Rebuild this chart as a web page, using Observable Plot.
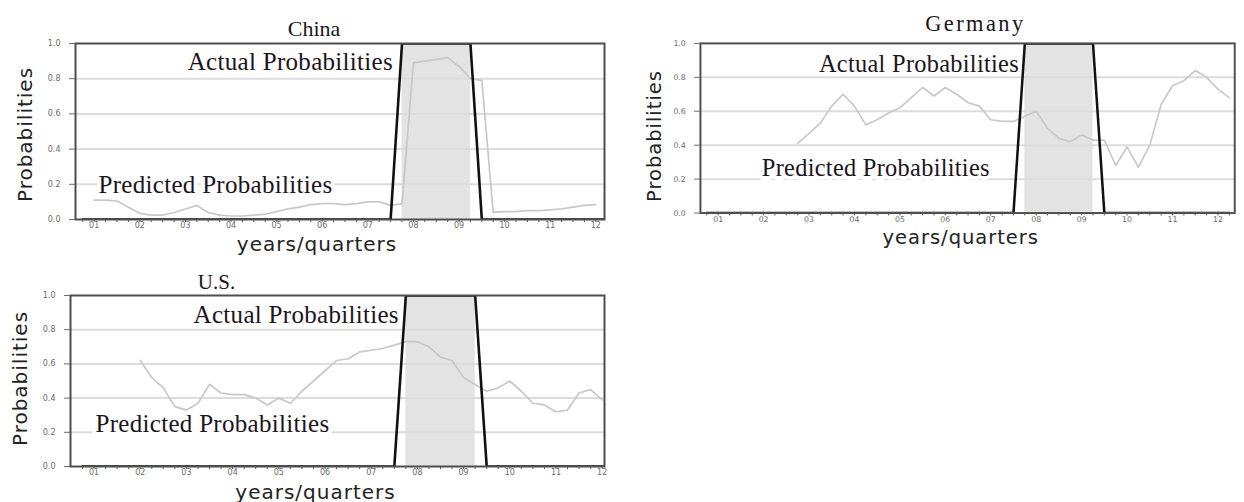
<!DOCTYPE html>
<html>
<head>
<meta charset="utf-8">
<script src="https://cdn.jsdelivr.net/npm/d3@7"></script>
<script src="https://cdn.jsdelivr.net/npm/@observablehq/plot@0.6"></script>
<style>
  html, body { margin: 0; padding: 0; background: #fff; overflow: hidden; }
  #wrap { position: relative; width: 1244px; height: 502px; overflow: hidden; background: #fff; }
  .panel { position: absolute; }
  .panel svg { overflow: visible; }
  g[aria-description="sans-label"] text { letter-spacing: 1px; }
  g[aria-description="serif-note"] text { letter-spacing: 0.3px; }
  g[aria-description="title-wide"] text { letter-spacing: 2.5px; }
</style>
</head>
<body>
<div id="wrap"></div>
<script>
// ---------- data ----------
const years = [2001, 2002, 2003, 2004, 2005, 2006, 2007, 2008, 2009, 2010, 2011, 2012];
const yearLabels = ["01", "02", "03", "04", "05", "06", "07", "08", "09", "10", "11", "12"];
const quarterNames = ["Q1", "Q2", "Q3", "Q4"];
const yTicks = [0, 0.2, 0.4, 0.6, 0.8, 1.0];

// Actual probabilities, 2001Q1 .. 2012Q3
const actualChina = [
  0,0,0,0, 0,0,0,0, 0,0,0,0, 0,0,0,0, 0,0,0,0, 0,0,0,0, 0,0,0,0,
  1,1,1,1, 1,1,1,0, 0,0,0,0, 0,0,0,0, 0,0,0
];
const actualGermany = [
  0,0,0,0, 0,0,0,0, 0,0,0,0, 0,0,0,0, 0,0,0,0, 0,0,0,0, 0,0,0,0,
  1,1,1,1, 1,1,1,0, 0,0,0,0, 0,0,0,0, 0,0,0
];
const actualUS = [
  0,0,0,0, 0,0,0,0, 0,0,0,0, 0,0,0,0, 0,0,0,0, 0,0,0,0, 0,0,0,0,
  1,1,1,1, 1,1,1,0, 0,0,0,0, 0,0,0,0, 0,0,0
];

// Predicted probabilities
const chinaPredStart = "2001Q2";
const chinaPred = [
  0.11, 0.11, 0.105,
  0.07, 0.035, 0.025, 0.025,
  0.04, 0.06, 0.08, 0.04,
  0.025, 0.02, 0.02, 0.025,
  0.03, 0.045, 0.06, 0.07,
  0.085, 0.09, 0.09, 0.085,
  0.09, 0.10, 0.10, 0.08,
  0.09, 0.89, 0.90, 0.91,
  0.92, 0.87, 0.80, 0.79,
  0.04, 0.045, 0.045, 0.05,
  0.05, 0.055, 0.06, 0.07,
  0.08, 0.085
];
const germanyPredStart = "2003Q1";
const germanyPred = [
  0.41, 0.47, 0.53, 0.63,
  0.70, 0.63, 0.52, 0.55,
  0.59, 0.62, 0.68, 0.74,
  0.69, 0.74, 0.70, 0.65,
  0.63, 0.55, 0.54, 0.54,
  0.57, 0.60, 0.50, 0.44,
  0.42, 0.46, 0.43, 0.43,
  0.28, 0.39, 0.27, 0.40,
  0.64, 0.75, 0.78, 0.84,
  0.80, 0.73, 0.68
];
const usPredStart = "2002Q2";
const usPred = [
  0.62, 0.52, 0.46,
  0.35, 0.33, 0.37, 0.48,
  0.43, 0.42, 0.42, 0.40,
  0.36, 0.40, 0.37, 0.44,
  0.50, 0.56, 0.62, 0.63,
  0.67, 0.68, 0.69, 0.71,
  0.73, 0.73, 0.70, 0.64,
  0.62, 0.52, 0.48, 0.44,
  0.46, 0.50, 0.44, 0.37,
  0.36, 0.32, 0.33, 0.43,
  0.45, 0.39
];

const titles = ["China", "Germany", "U.S."];
const yLabel = "Probabilities";
const xLabel = "years/quarters";
const actualNote = "Actual Probabilities";
const predNote = "Predicted Probabilities";

// ---------- helpers ----------
const quarters = years.flatMap(y => quarterNames.map(q => `${y}${q}`));
const tq = q => +q.slice(0, 4) + (+q.slice(5) - 1) / 4;

function panel(o) {
  const actualData = o.actual.map((v, i) => ({t: tq(quarters[i]), v}));
  const s = quarters.indexOf(o.predStart);
  const predData = o.pred.map((v, i) => ({t: tq(quarters[s + i]), v}));
  const ones = actualData.filter(d => d.v === 1);
  const shade = [{x1: ones[0].t, x2: ones[ones.length - 1].t}];
  const qTicks = quarters.map(tq).filter(t => t >= o.domain[0] && t <= o.domain[1]);
  const yearTicks = years.map(y => y + 0.25);

  return Plot.plot({
    width: o.width, height: o.height,
    marginLeft: o.m[0], marginRight: o.m[1], marginTop: o.m[2], marginBottom: o.m[3],
    x: {domain: o.domain, axis: null},
    y: {domain: [0, 1], axis: null},
    marks: [
      Plot.rect(shade, {x1: "x1", x2: "x2", y1: 0, y2: 1, fill: "#e3e3e3"}),
      Plot.gridY([0.2, 0.4, 0.6, 0.8], {stroke: "#dcdcdc", strokeOpacity: 1, strokeWidth: 2}),
      Plot.line(predData, {x: "t", y: "v", stroke: "#c8c8c8", strokeWidth: 1.7, clip: true}),
      Plot.text([{v: o.predY, label: predNote}], {
        y: "v", text: "label", frameAnchor: "left", dx: o.predDx,
        textAnchor: "start", lineAnchor: "bottom",
        fontFamily: "Liberation Serif", fontSize: 25, fill: "#1c141c",
        stroke: "white", strokeWidth: 8, ariaDescription: "serif-note"
      }),
      Plot.line(actualData, {x: "t", y: "v", stroke: "#111", strokeWidth: 2.6, clip: true}),
      Plot.frame({stroke: "#4d4d4d", strokeWidth: 2}),
      Plot.text([{t: ones[0].t, v: o.actY, label: actualNote}], {
        x: "t", y: "v", text: "label", dx: o.actDx,
        textAnchor: "end", lineAnchor: "bottom",
        fontFamily: "Liberation Serif", fontSize: 25, fill: "#1c141c",
        stroke: "white", strokeWidth: 5, ariaDescription: "serif-note"
      }),
      Plot.axisY(yTicks, {
        anchor: "left", tickSize: 6, tickPadding: 9, label: null,
        tickFormat: d => d.toFixed(1), fontSize: 8, fontFamily: "DejaVu Sans",
        color: "#6a6a6a"
      }),
      Plot.axisX(qTicks, {
        anchor: "bottom", tickSize: 3, label: null, tickFormat: () => "", color: "#555"
      }),
      Plot.axisX(yearTicks, {
        anchor: "bottom", tickSize: 0, tickPadding: 3, label: null,
        tickFormat: d => yearLabels[years.indexOf(Math.floor(d))],
        fontSize: 8, fontFamily: "DejaVu Sans", color: "#6a6a6a"
      }),
      Plot.text([o.title], {
        text: d => d, frameAnchor: "top", dx: o.titleDx, dy: o.titleDy,
        textAnchor: "middle", lineAnchor: "bottom", fontFamily: "Liberation Serif", fontSize: o.titleSize,
        fill: "#1c141c", ariaDescription: o.titleWide ? "title-wide" : "title"
      }),
      Plot.text([yLabel], {
        text: d => d, frameAnchor: "left", rotate: -90, dx: o.ylDx, dy: o.ylDy,
        textAnchor: "middle", lineAnchor: "middle",
        fontFamily: "DejaVu Sans", fontSize: 20, fill: "#222", ariaDescription: "sans-label"
      }),
      Plot.text([xLabel], {
        text: d => d, frameAnchor: "bottom", dx: o.xlDx, dy: o.xlDy,
        textAnchor: "middle", lineAnchor: "bottom", fontFamily: "DejaVu Sans", fontSize: 20, fill: "#222",
        ariaDescription: "sans-label"
      })
    ]
  });
}

const specs = [
  {
    left: 0, top: 0, width: 620, height: 260, m: [75, 16, 43, 41],
    domain: [2000.84, 2012.44], title: titles[0], titleSize: 22, titleDx: -26, titleDy: -8,
    actual: actualChina, predStart: chinaPredStart, pred: chinaPred,
    actY: 0.85, actDx: -9, predY: 0.153, predDx: 23,
    ylDx: -50, ylDy: 3, xlDx: -23, xlDy: 31
  },
  {
    left: 620, top: 0, width: 640, height: 260, m: [82, 10, 44, 42],
    domain: [2000.86, 2012.62], title: titles[1], titleSize: 23, titleWide: true, titleDx: 8, titleDy: -13,
    actual: actualGermany, predStart: germanyPredStart, pred: germanyPred,
    actY: 0.83, actDx: -6, predY: 0.22, predDx: 63,
    ylDx: -47, ylDy: 8, xlDx: -7, xlDy: 32
  },
  {
    left: 0, top: 260, width: 620, height: 242, m: [70, 16, 35, 36],
    domain: [2000.74, 2012.30], title: titles[2], titleSize: 21, titleDx: -121, titleDy: -7,
    actual: actualUS, predStart: usPredStart, pred: usPred,
    actY: 0.84, actDx: -7, predY: 0.2, predDx: 25,
    ylDx: -50, ylDy: -2.5, xlDx: -22, xlDy: 32
  }
];

const wrap = document.getElementById("wrap");
for (const sp of specs) {
  const div = document.createElement("div");
  div.className = "panel";
  div.style.left = sp.left + "px";
  div.style.top = sp.top + "px";
  div.appendChild(panel(sp));
  wrap.appendChild(div);
}
</script>
</body>
</html>
